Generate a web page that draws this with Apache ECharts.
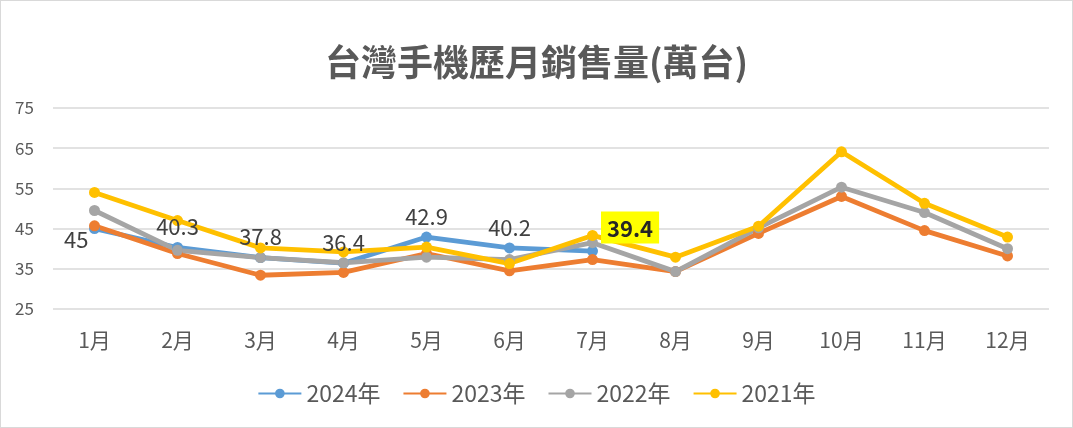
<!DOCTYPE html>
<html>
<head>
<meta charset="utf-8">
<script src="https://cdn.jsdelivr.net/npm/echarts@6/dist/echarts.min.js"></script>
<style>
html, body { margin: 0; padding: 0; background: #fff; }
#main { width: 1073px; height: 428px; box-sizing: border-box; border: 1px solid #d9d9d9; }
</style>
</head>
<body>
<div id="main"></div>
<script>
var months = ['1月', '2月', '3月', '4月', '5月', '6月', '7月', '8月', '9月', '10月', '11月', '12月'];
var sales2024 = [45, 40.3, 37.8, 36.4, 42.9, 40.2, 39.4];
var sales2023 = [45.7, 38.8, 33.4, 34.1, 38.8, 34.5, 37.3, 34.3, 43.8, 53.0, 44.5, 38.2];
var sales2022 = [49.5, 39.6, 37.8, 36.5, 37.9, 37.3, 41.5, 34.3, 45.2, 55.3, 49.0, 40.0];
var sales2021 = [54.0, 47.0, 40.2, 39.2, 40.4, 36.3, 43.3, 37.9, 45.6, 64.1, 51.3, 42.9];

var font = '"Noto Sans CJK TC", "Noto Sans", sans-serif';

var chart = echarts.init(document.getElementById('main'));

function line(name, data, color) {
    return {
        name: name,
        type: 'line',
        data: data,
        symbol: 'circle',
        symbolSize: 11,
        lineStyle: { width: 4.8, color: color },
        itemStyle: { color: color },
        animation: false
    };
}

// 2024 labels: first one sits lower left, last one is highlighted
var labeled2024 = sales2024.map(function (v, i) {
    var item = { value: v };
    if (i === 0) {
        item.label = { position: [-25, 6] };
    } else if (i === sales2024.length - 1) {
        item.label = {
            position: [14, -34],
            fontWeight: 'bold',
            color: '#262626',
            backgroundColor: '#ffff00',
            padding: [6, 6, 4, 6]
        };
    }
    return item;
});

var s2024 = line('2024年', labeled2024, '#5b9bd5');
s2024.label = {
    show: true,
    position: 'top',
    distance: 4,
    fontSize: 22,
    fontFamily: font,
    color: '#404040'
};

chart.setOption({
    textStyle: { fontFamily: font },
    title: {
        text: '台灣手機歷月銷售量(萬台)',
        left: 'center',
        top: 38,
        textStyle: { fontSize: 36, fontWeight: 'bold', color: '#595959', fontFamily: font }
    },
    legend: {
        bottom: 17,
        left: 'center',
        itemWidth: 43,
        itemHeight: 12,
        itemGap: 22,
        textStyle: { fontSize: 23, color: '#595959', fontFamily: font },
        data: ['2024年', '2023年', '2022年', '2021年']
    },
    grid: { left: 52, right: 23, top: 107, bottom: 118 },
    xAxis: {
        type: 'category',
        data: months,
        axisLine: { show: false },
        axisTick: { show: false },
        axisLabel: { fontSize: 21, color: '#595959', margin: 21 }
    },
    yAxis: {
        type: 'value',
        min: 25,
        max: 75,
        interval: 10,
        axisLabel: { fontSize: 17, color: '#595959', margin: 38, align: 'left' },
        splitLine: { lineStyle: { color: '#d9d9d9', width: 1.5 } }
    },
    series: [
        s2024,
        line('2023年', sales2023, '#ed7d31'),
        line('2022年', sales2022, '#a5a5a5'),
        line('2021年', sales2021, '#ffc000')
    ]
});
</script>
</body>
</html>
